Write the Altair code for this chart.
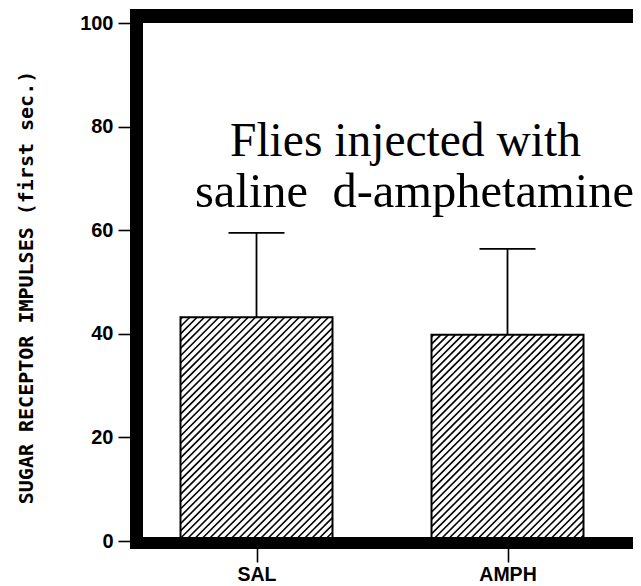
import json
import altair as alt
import pandas as pd

# ---- data ----
categories = ["SAL", "AMPH"]
cat_pos = [1, 2]
means = [43.2, 39.8]
err_top = [59.5, 56.4]
y_ticks = [0, 20, 40, 60, 80, 100]
annotation_line1 = "Flies injected with"
annotation_line2 = "saline\u00a0 d-amphetamine"
y_title = "SUGAR RECEPTOR IMPULSES (first sec.)"

# ---- layout helpers ----
W, H = 502, 518
X_DOMAIN = [0.5, 2.5]
px_x = W / (X_DOMAIN[1] - X_DOMAIN[0])
px_y = H / 100.0
half_bar = 76 / px_x
half_cap = 28 / px_x
hatch_step = 7.3

bars = pd.DataFrame({"cat": categories, "pos": cat_pos, "mean": means, "top": err_top})
bars["x0"] = bars["pos"] - half_bar
bars["x1"] = bars["pos"] + half_bar
bars["c0"] = bars["pos"] - half_cap
bars["c1"] = bars["pos"] + half_cap
bars["zero"] = 0.0

# hatch segments ("/" direction) derived from the bar values
rows = []
for _, b in bars.iterrows():
    Wp = (b.x1 - b.x0) * px_x
    Hp = b["mean"] * px_y
    c = -Hp + 2.0
    while c < Wp:
        if c >= 0:
            sx, sy = c, 0.0
        else:
            sx, sy = 0.0, -c
        if c + Hp <= Wp:
            ex, ey = c + Hp, Hp
        else:
            ex, ey = Wp, Wp - c
        rows.append({"hx": b.x0 + sx / px_x, "hy": sy / px_y,
                     "hx2": b.x0 + ex / px_x, "hy2": ey / px_y})
        c += hatch_step
hatch = pd.DataFrame(rows)

xscale = alt.Scale(domain=X_DOMAIN, nice=False, zero=False)
yscale = alt.Scale(domain=[0, 100], nice=False)

label_expr = f"{json.dumps(categories)}[datum.value - 1]"

x_axis = alt.Axis(values=cat_pos, labelExpr=label_expr, title=None, domain=False,
                  grid=False, tickSize=21, tickWidth=1.6, tickColor="black",
                  labelFont="Liberation Sans", labelFontWeight="bold",
                  labelFontSize=19.5, labelColor="black", labelPadding=3,
                  labelFlush=False)
y_axis = alt.Axis(values=y_ticks, title=y_title, domain=False, grid=False,
                  tickSize=13, tickWidth=1.6, tickColor="black",
                  labelFont="Liberation Sans", labelFontWeight="bold",
                  labelFontSize=20, labelColor="black", labelPadding=5,
                  titleFont="DejaVu Sans Mono", titleFontWeight="bold",
                  titleFontSize=20, titleColor="black", titleAngle=270,
                  titleX=-99, titleY=264, titleAlign="center",
                  titleBaseline="alphabetic")

base = alt.Chart(bars)

bar_fill = base.mark_rect(fill="white", stroke=None).encode(
    x=alt.X("x0:Q", scale=xscale, axis=x_axis),
    x2="x1:Q",
    y=alt.Y("zero:Q", scale=yscale, axis=y_axis),
    y2="mean:Q",
)

hatch_layer = alt.Chart(hatch).mark_rule(color="black", strokeWidth=1.6, strokeCap="butt").encode(
    x=alt.X("hx:Q", scale=xscale, axis=None),
    x2="hx2:Q",
    y=alt.Y("hy:Q", scale=yscale, axis=None),
    y2="hy2:Q",
)

bar_outline = base.mark_rect(fillOpacity=0, stroke="black", strokeWidth=2).encode(
    x=alt.X("x0:Q", scale=xscale, axis=None),
    x2="x1:Q",
    y=alt.Y("zero:Q", scale=yscale, axis=None),
    y2="mean:Q",
)

err_line = base.mark_rule(color="black", strokeWidth=1.8).encode(
    x=alt.X("pos:Q", scale=xscale, axis=None),
    y=alt.Y("mean:Q", scale=yscale, axis=None),
    y2="top:Q",
)

err_cap = base.mark_rule(color="black", strokeWidth=1.8).encode(
    x=alt.X("c0:Q", scale=xscale, axis=None),
    x2="c1:Q",
    y=alt.Y("top:Q", scale=yscale, axis=None),
)

one = pd.DataFrame({"k": [0]})
frame_top = alt.Chart(one).mark_rule(color="black", strokeWidth=14, strokeCap="butt").encode(
    x=alt.value(-1), x2=alt.value(W), y=alt.value(-7))
frame_bottom = alt.Chart(one).mark_rule(color="black", strokeWidth=12, strokeCap="butt").encode(
    x=alt.value(1), x2=alt.value(W), y=alt.value(520))
frame_left = alt.Chart(one).mark_rule(color="black", strokeWidth=13, strokeCap="butt").encode(
    x=alt.value(5.5), y=alt.value(-14), y2=alt.value(526))

txt1 = alt.Chart(pd.DataFrame({"t": [annotation_line1]})).mark_text(
    align="left", baseline="alphabetic", font="Liberation Serif", fontSize=47.5, color="black"
).encode(text="t:N", x=alt.value(99), y=alt.value(133))
txt2 = alt.Chart(pd.DataFrame({"t": [annotation_line2]})).mark_text(
    align="left", baseline="alphabetic", font="Liberation Serif", fontSize=48.5, color="black"
).encode(text="t:N", x=alt.value(64), y=alt.value(184))

chart = alt.layer(
    bar_fill, hatch_layer, bar_outline, err_line, err_cap,
    frame_top, frame_bottom, frame_left, txt1, txt2,
).resolve_axis(
    x="independent", y="independent"
).properties(
    width=W, height=H,
    autosize=alt.AutoSizeParams(type="none"),
    padding={"left": 123, "top": 15, "right": 0, "bottom": 45},
    background="white",
).configure_view(stroke=None)

chart.save("out.html", embed_options={"renderer": "svg", "actions": False})
